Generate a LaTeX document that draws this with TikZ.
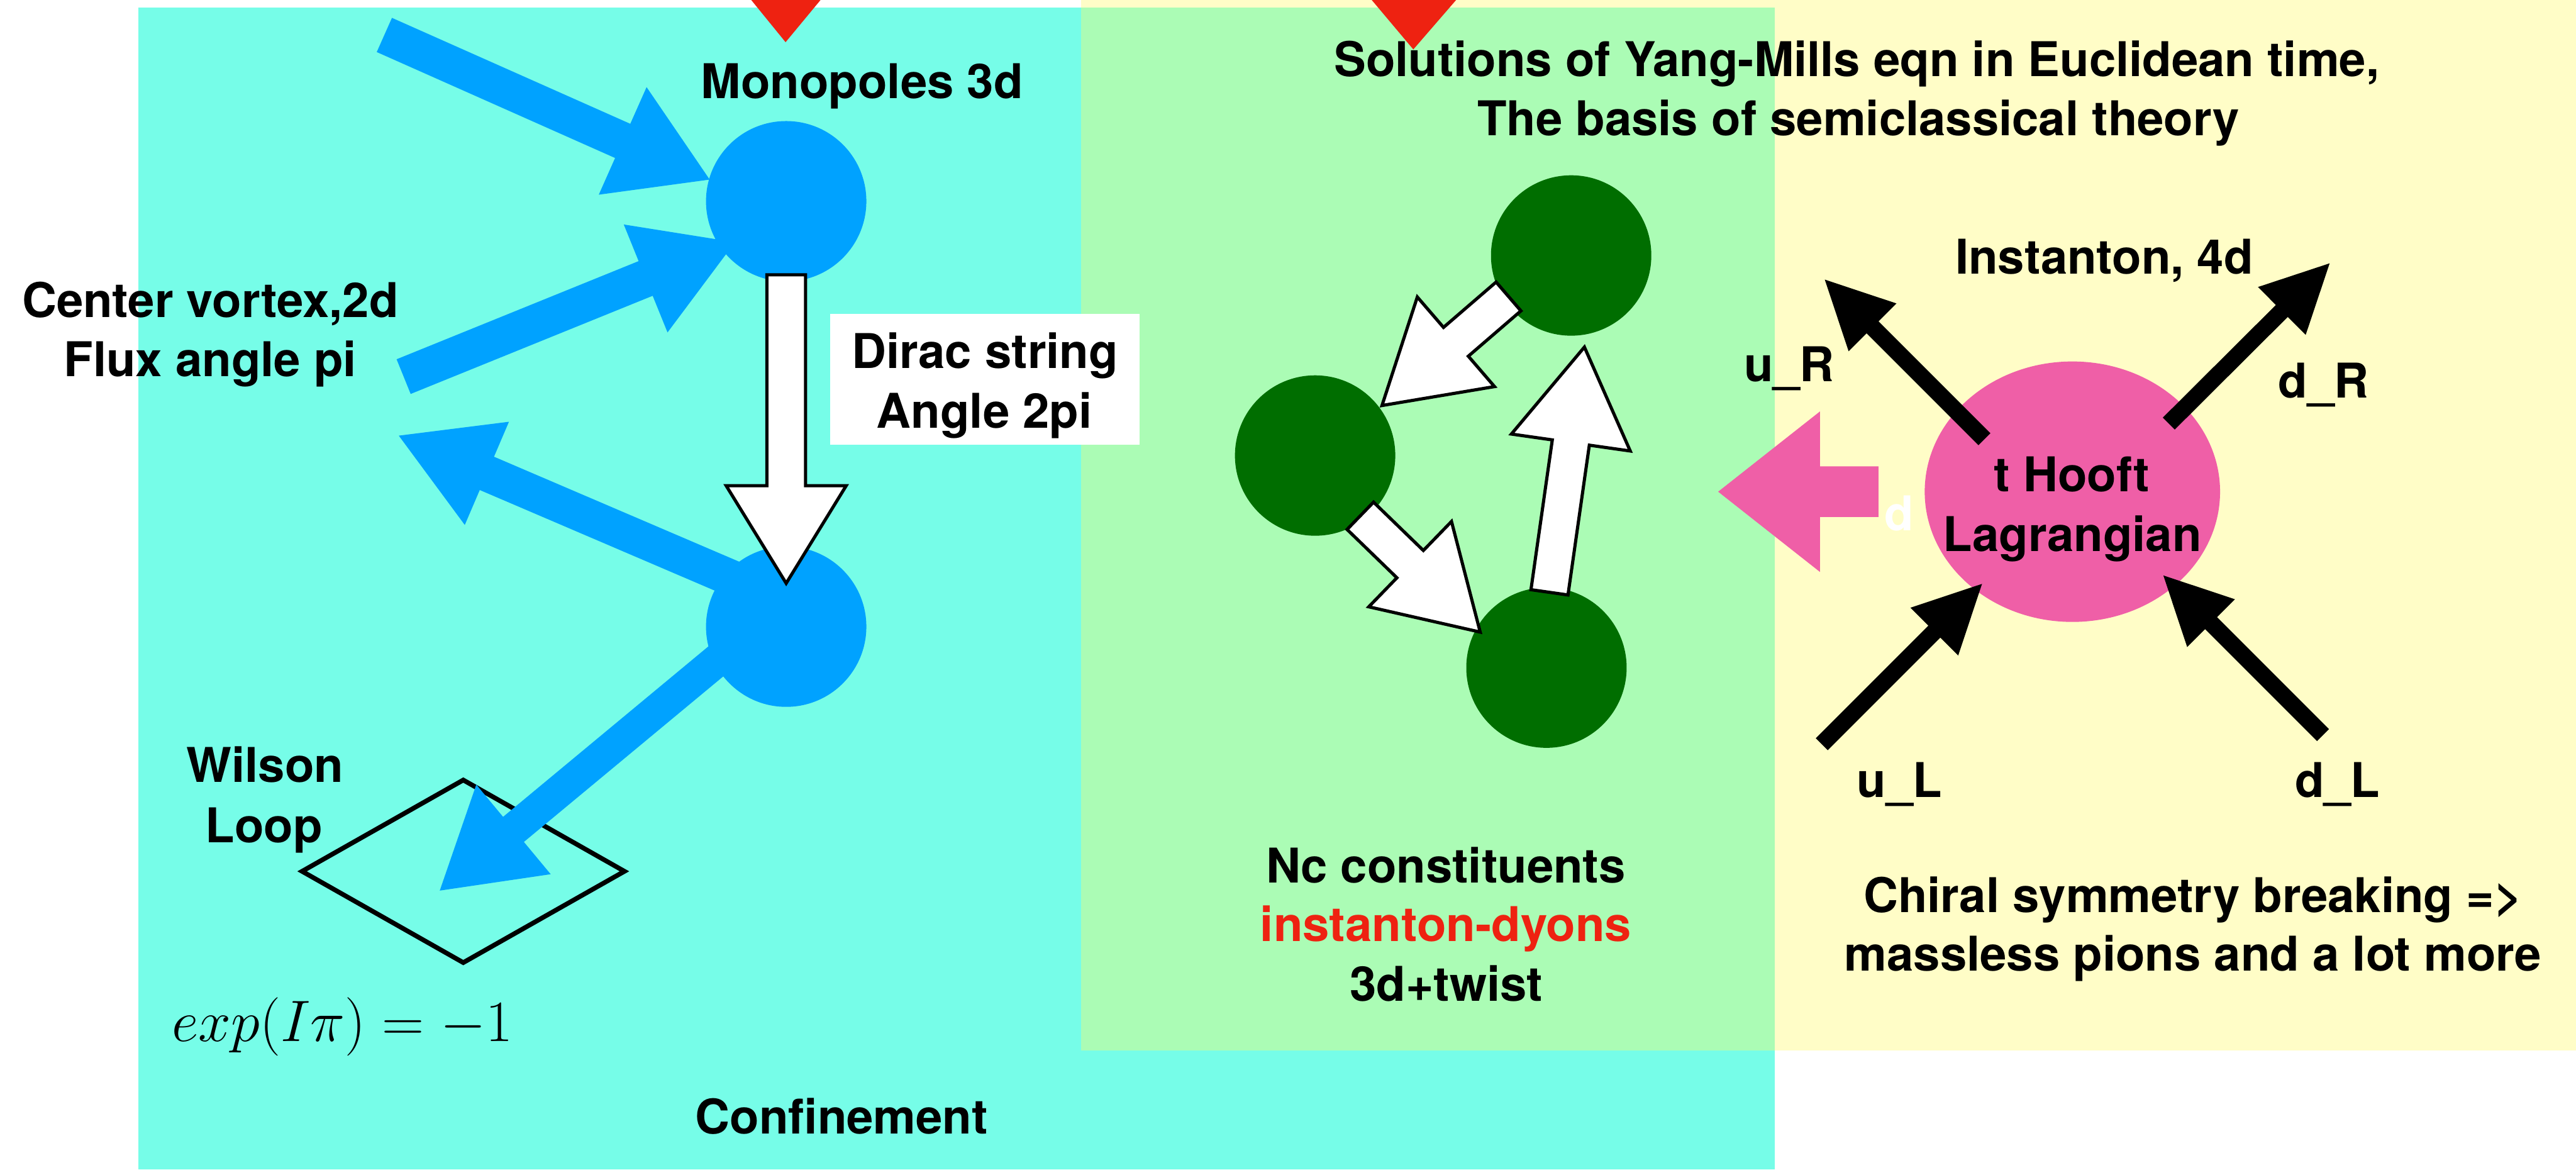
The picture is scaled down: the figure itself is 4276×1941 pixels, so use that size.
\documentclass[tikz,border=0pt]{standalone}
\usepackage{graphicx}
\usepackage[no-math]{fontspec}
\setmainfont{TeX Gyre Heros}
\usetikzlibrary{calc,shapes.geometric}
\definecolor{cyanbg}{RGB}{118,253,232}
\definecolor{greenbg}{RGB}{171,252,181}
\definecolor{yellowbg}{RGB}{255,253,199}
\definecolor{monoblue}{RGB}{0,162,255}
\definecolor{dyongreen}{RGB}{0,110,0}
\definecolor{hooftpink}{RGB}{239,95,167}
\definecolor{redmark}{RGB}{238,34,17}
% #1 style, #2 tail, #3 tip, #4 shaft width, #5 head width, #6 head length (px)
\newcommand\blockarrow[6]{%
  \coordinate (babase) at ($(#3)!#6*0.01cm!(#2)$);
  \path[#1] ($(#2)!#4*0.005cm!90:(#3)$)
    -- ($(babase)!#4*0.005cm!-90:(#2)$)
    -- ($(babase)!#5*0.005cm!-90:(#2)$)
    -- (#3)
    -- ($(babase)!#5*0.005cm!90:(#2)$)
    -- ($(babase)!#4*0.005cm!90:(#2)$)
    -- ($(#2)!#4*0.005cm!-90:(#3)$) -- cycle;
}
\tikzset{
  bluearrow/.style={fill=monoblue},
  whitearrow/.style={fill=white, draw=black, line width=1.5pt, line join=miter},
  blackarrow/.style={fill=black},
  pinkarrow/.style={fill=hooftpink},
  lbl/.style={font=\fontsize{22.6}{27}\selectfont\bfseries, anchor=base, inner sep=0pt},
  dot/.style={circle, inner sep=0pt, minimum size=2.66cm},
}
\begin{document}
\begin{tikzpicture}[x=0.01cm, y=-0.01cm]
\useasboundingbox (0,0) rectangle (4276,1941);
% background regions
\fill[yellowbg] (1794,0) rectangle (4276,1743);
\fill[cyanbg] (230,12) rectangle (2946,1941);
\fill[greenbg] (1794,12) rectangle (2946,1743);
% red markers
\fill[redmark] (1247,0) -- (1362,0) -- (1304,70) -- cycle;
\fill[redmark] (2277,0) -- (2417,0) -- (2346,82) -- cycle;

% ---------- Confinement part ----------
\node[draw, line width=2.2pt, shape=diamond, inner sep=0pt,
      minimum width=5.38cm, minimum height=3.06cm] (wloop) at (769,1446) {};

\coordinate (b1t) at (638,58);   \coordinate (b1h) at (1178,298);
\coordinate (b2t) at (670,625);  \coordinate (b2h) at (1220,402);
\coordinate (b3t) at (1232,967); \coordinate (b3h) at (662,723);
\coordinate (b4t) at (1195,1092);\coordinate (b4h) at (730,1478);
\blockarrow{bluearrow}{b1t}{b1h}{62}{195}{158}
\blockarrow{bluearrow}{b2t}{b2h}{62}{193}{160}
\blockarrow{bluearrow}{b3t}{b3h}{60}{186}{159}
\blockarrow{bluearrow}{b4t}{b4h}{54}{193}{159}

\node[dot, fill=monoblue] (mtop) at (1305,334) {};
\node[dot, fill=monoblue] (mbot) at (1305,1040) {};

\coordinate (dt) at (1305,456); \coordinate (dh) at (1305,968);
\blockarrow{whitearrow}{dt}{dh}{64}{199}{162}

\node[fill=white, inner sep=0pt, minimum width=5.13cm, minimum height=2.17cm] (dbox) at (1634.5,629.5) {};
\node[lbl] (dirac1) at (1635,611) {Dirac string};
\node[lbl] (dirac2) at (1634,710) {Angle 2pi};

\node[lbl] (mono) at (1431,163) {Monopoles 3d};
\node[lbl] (cv1) at (349,527) {Center vortex,2d};
\node[lbl] (cv2) at (349,625) {Flux angle pi};
\node[lbl] (wil1) at (440,1298) {Wilson};
\node[lbl] (wil2) at (438,1398) {Loop};
\node[anchor=base west, inner sep=0pt] (expr) at (285,1728) {\scalebox{1.11}{\fontsize{24.88}{30}\selectfont $exp(I\pi)=-1$}};
\node[lbl] (conf) at (1397,1882) {Confinement};

% ---------- dyons ----------
\node[dot, fill=dyongreen] (g1) at (2608,424) {};
\node[dot, fill=dyongreen] (g2) at (2183,756) {};
\node[dot, fill=dyongreen] (g3) at (2567,1108) {};
\coordinate (w1t) at (2504,492);  \coordinate (w1h) at (2294,673);
\coordinate (w2t) at (2258,856);  \coordinate (w2h) at (2457,1049);
\coordinate (w3t) at (2572,983);  \coordinate (w3h) at (2630,576);
\blockarrow{whitearrow}{w1t}{w1h}{63}{196}{162}
\blockarrow{whitearrow}{w2t}{w2h}{63}{197}{162}
\blockarrow{whitearrow}{w3t}{w3h}{62}{199}{160}

\node[lbl] (sol1) at (3082,127) {Solutions of Yang-Mills eqn in Euclidean time,};
\node[lbl] (sol2) at (3085,225) {The basis of semiclassical theory};
\node[lbl] (nc1) at (2400,1465) {Nc constituents};
\node[lbl, text=redmark] (nc2) at (2400,1562) {instanton-dyons};
\node[lbl] (nc3) at (2401,1661) {3d+twist};

% ---------- instanton ----------
\coordinate (pt) at (3118,816); \coordinate (ph) at (2852,816);
\blockarrow{pinkarrow}{pt}{ph}{84}{266}{169}
\node[lbl, text=white] (dlbl) at (3152,881) {d};
\node[ellipse, fill=hooftpink, inner sep=0pt, minimum width=4.9cm, minimum height=4.32cm] (thooft) at (3440,816) {};

\coordinate (uRt) at (3294,729);  \coordinate (uRh) at (3029,464);
\coordinate (dRt) at (3600,703);  \coordinate (dRh) at (3867,437);
\coordinate (uLt) at (3024,1235); \coordinate (uLh) at (3290,969);
\coordinate (dLt) at (3856,1220); \coordinate (dLh) at (3591,955);
\blockarrow{blackarrow}{uRt}{uRh}{28}{112}{112}
\blockarrow{blackarrow}{dRt}{dRh}{28}{112}{112}
\blockarrow{blackarrow}{uLt}{uLh}{28}{112}{112}
\blockarrow{blackarrow}{dLt}{dLh}{28}{112}{112}

\node[lbl] (th1) at (3439,816) {t Hooft};
\node[lbl] (th2) at (3440,915) {Lagrangian};
\node[lbl] (inst) at (3493,455) {Instanton, 4d};
\node[lbl] (uR) at (2970,633) {u\_R};
\node[lbl] (dR) at (3857,660) {d\_R};
\node[lbl] (uL) at (3153,1323) {u\_L};
\node[lbl] (dL) at (3880,1323) {d\_L};
\node[lbl] (chi1) at (3640,1514) {Chiral symmetry breaking =>};
\node[lbl] (chi2) at (3640,1611) {massless pions and a lot more};
\end{tikzpicture}
\end{document}
